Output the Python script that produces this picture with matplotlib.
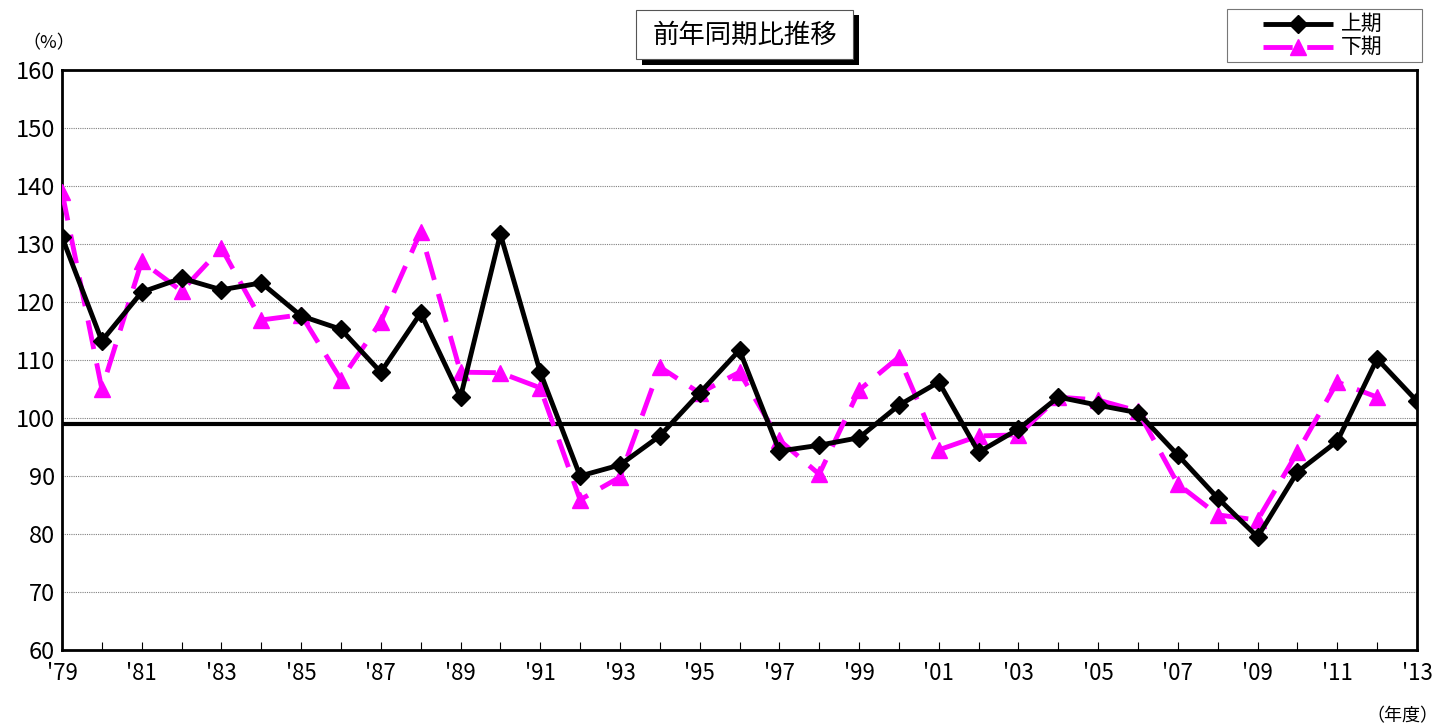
import numpy as np
import matplotlib.pyplot as plt
from matplotlib.lines import Line2D

plt.rcParams['font.family'] = ['Noto Sans CJK JP', 'DejaVu Sans']

# データ (前年同期比 %)
years = list(range(1979, 2014))
kamiki = [131.2, 113.3, 121.7, 124.1, 122.1, 123.3, 117.6, 115.3, 107.9, 118.1,
          103.6, 131.7, 107.9, 90.0, 91.9, 96.9, 104.3, 111.7, 94.3, 95.3,
          96.6, 102.2, 106.2, 94.1, 98.1, 103.6, 102.2, 100.9, 93.6, 86.2,
          79.5, 90.7, 96.0, 110.2, 102.9]
shimoki = [139.0, 105.0, 127.0, 121.9, 129.3, 116.9, 117.8, 106.6, 116.6, 132.1,
           107.9, 107.8, 105.2, 85.9, 89.8, 108.8, 104.3, 107.9, 96.2, 90.3,
           104.8, 110.5, 94.5, 96.9, 97.1, 103.6, 103.1, 101.2, 88.6, 83.3,
           82.4, 94.1, 106.2, 103.6]
base_line = 99
tick_labels = ["'%02d" % (y % 100) for y in years[::2]]
series_names = ['上期', '下期']

W, H = 1440, 724
fig = plt.figure(figsize=(W / 100, H / 100), dpi=100)
ax = fig.add_axes([62 / W, 1 - 650 / H, (1417 - 62) / W, 580 / H])

styles = [dict(color='black', lw=3.5, marker='D', ms=9),
          dict(color='#ff00ff', lw=3.5, ls=(0, (6, 3)), marker='^', ms=11)]

ax.plot(years, kamiki, zorder=4, **styles[0])
ax.plot(years[:len(shimoki)], shimoki, zorder=3, **styles[1])
ax.axhline(base_line, color='black', lw=3, zorder=2)

ax.set_xlim(1979, 2013)
ax.set_ylim(60, 160)
ax.set_yticks(range(60, 161, 10))
ax.yaxis.grid(True, color='gray', ls=(0, (1, 1)), lw=0.8)
ax.set_axisbelow(True)
ax.set_xticks(years[::2])
ax.set_xticklabels(tick_labels)
ax.set_xticks(years, minor=True)
ax.tick_params(axis='x', which='both', direction='in', length=6, width=0.8,
               labelsize=16, pad=9)
ax.tick_params(axis='y', length=0, labelsize=17, pad=5)
for s in ax.spines.values():
    s.set_linewidth(2)

fig.text(22 / W, 1 - 43 / H, '（%）', fontsize=13, ha='left', va='center')
fig.text(1438 / W, 1 - 716 / H, '（年度）', fontsize=13, ha='right', va='center')

# タイトル (影付きの枠)
shadow = plt.Rectangle((642 / W, 1 - 65 / H), 217 / W, 50 / H,
                       transform=fig.transFigure, fc='black', ec='none')
box = plt.Rectangle((636 / W, 1 - 59 / H), 217 / W, 49 / H,
                    transform=fig.transFigure, fc='white', ec='#555555', lw=0.8)
fig.patches.extend([shadow, box])
fig.text(744.5 / W, 1 - 35 / H, '前年同期比推移', fontsize=19, ha='center', va='center')

# 凡例 (手書き)
leg_box = plt.Rectangle((1227 / W, 1 - 62 / H), 195 / W, 53 / H,
                        transform=fig.transFigure, fc='white', ec='#777777', lw=0.8)
fig.patches.append(leg_box)
for i, (name, st) in enumerate(zip(series_names, styles)):
    yy = 1 - (24 + 23 * i) / H
    fig.lines.append(Line2D([1263 / W, 1298 / W, 1333 / W], [yy, yy, yy],
                            transform=fig.transFigure, markevery=[1],
                            solid_capstyle='butt', dash_capstyle='butt', **st))
    fig.text(1341 / W, yy, name, fontsize=15, ha='left', va='center')

fig.savefig('out.png', dpi=100)
